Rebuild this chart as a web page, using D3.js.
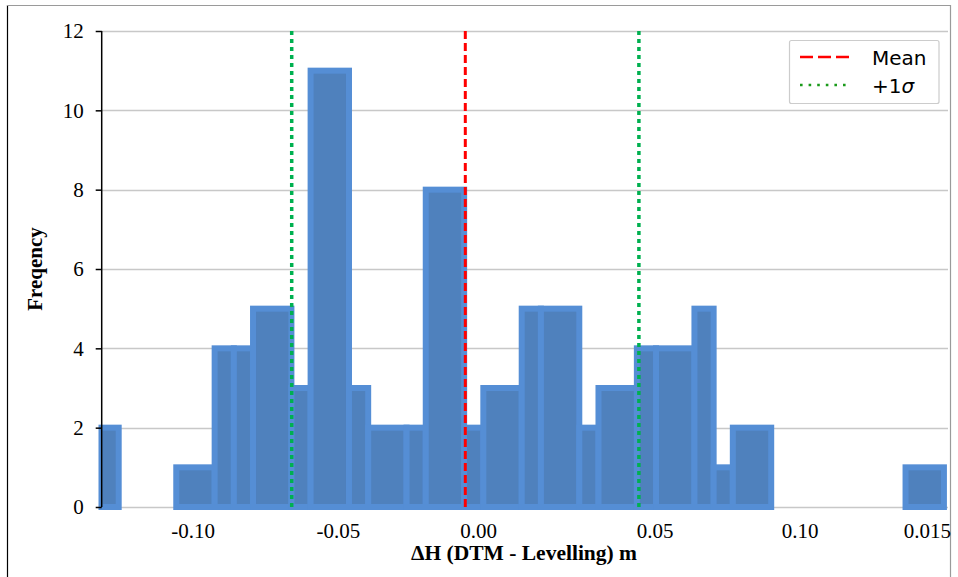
<!DOCTYPE html>
<html>
<head>
<meta charset="utf-8">
<script src="https://cdn.jsdelivr.net/npm/d3@7"></script>
<style>
  html, body { margin: 0; padding: 0; background: #fff; }
  svg { display: block; }
</style>
</head>
<body>
<svg id="chart" width="958" height="577"></svg>
<script>
// ---- data ----
const binStart = [-0.1320, -0.1056, -0.0924, -0.0858, -0.0792, -0.0660, -0.0594, -0.0462, -0.0396, -0.0264, -0.0198, -0.0066, 0.0000, 0.0132, 0.0198, 0.0330, 0.0396, 0.0528, 0.0594, 0.0726, 0.0792, 0.0858, 0.1452];
const binEnd   = [-0.1254, -0.0924, -0.0858, -0.0792, -0.0660, -0.0594, -0.0462, -0.0396, -0.0264, -0.0198, -0.0066, 0.0000, 0.0132, 0.0198, 0.0330, 0.0396, 0.0528, 0.0594, 0.0726, 0.0792, 0.0858, 0.0990, 0.1584];
const frequency = [2, 1, 4, 4, 5, 3, 11, 3, 2, 2, 8, 2, 3, 5, 5, 2, 3, 4, 4, 5, 1, 2, 1];
const meanValue = -0.0062;
const sigmaValue = 0.0597;
const xTickPos = [-0.100, -0.050, -0.0018, 0.0589, 0.1088, 0.1525];
const xTickLabels = ["-0.10", "-0.05", "0.00", "0.05", "0.10", "0.015"];
const yTicks = [0, 2, 4, 6, 8, 10, 12];
const xTitle = "ΔH (DTM - Levelling) m";
const yTitle = "Freqency";
const legendItems = ["Mean", "+1σ"];

// ---- layout ----
const svg = d3.select("#chart");
const plot = { left: 99.5, right: 948, top: 31, bottom: 507 };
const x = d3.scaleLinear().domain([-0.132, 0.1598]).range([plot.left, plot.right]);
const y = d3.scaleLinear().domain([0, 12]).range([plot.bottom, plot.top]);

// outer frame
svg.append("line").attr("x1", 7.5).attr("x2", 7.5).attr("y1", 5).attr("y2", 577).attr("stroke", "#000").attr("stroke-width", 1.2);
svg.append("line").attr("x1", 7).attr("x2", 951).attr("y1", 5.5).attr("y2", 5.5).attr("stroke", "#9a9a9a").attr("stroke-width", 1.2);
svg.append("line").attr("x1", 950.5).attr("x2", 950.5).attr("y1", 5).attr("y2", 577).attr("stroke", "#9a9a9a").attr("stroke-width", 1.2);

// gridlines
svg.append("g").selectAll("line").data(yTicks).join("line")
  .attr("x1", 101).attr("x2", plot.right)
  .attr("y1", d => Math.round(y(d)) + 0.5).attr("y2", d => Math.round(y(d)) + 0.5)
  .attr("stroke", "#c8c8c8").attr("stroke-width", 1.3);

// bars
const bins = frequency.map((f, i) => ({ x0: binStart[i], x1: binEnd[i], f }));
svg.append("defs").append("clipPath").attr("id", "clipL")
  .append("rect").attr("x", 98.5).attr("y", 0).attr("width", 900).attr("height", 577);
svg.append("g").attr("clip-path", "url(#clipL)")
  .selectAll("rect").data(bins).join("rect")
  .attr("x", d => x(d.x0))
  .attr("width", d => x(d.x1) - x(d.x0))
  .attr("y", d => y(d.f))
  .attr("height", d => y(0) - y(d.f))
  .attr("fill", "#4f81bd")
  .attr("stroke", "#558ed5")
  .attr("stroke-width", 6);

// mean & sigma lines
svg.append("line")
  .attr("x1", x(meanValue)).attr("x2", x(meanValue))
  .attr("y1", y(12)).attr("y2", y(0))
  .attr("stroke", "#ff0000").attr("stroke-width", 3)
  .attr("stroke-dasharray", "8,4");
[meanValue - sigmaValue, meanValue + sigmaValue].forEach(v => {
  svg.append("line")
    .attr("x1", x(v)).attr("x2", x(v))
    .attr("y1", y(12)).attr("y2", y(0))
    .attr("stroke", "#00b050").attr("stroke-width", 3.5)
    .attr("stroke-dasharray", "4,4");
});

// y axis
const yAxis = d3.axisLeft(y).tickValues(yTicks).tickSize(6).tickPadding(12).tickFormat(d3.format("d"));
const gy = svg.append("g").attr("transform", "translate(101.7,0)").call(yAxis);
gy.select(".domain").attr("stroke", "#000").attr("stroke-width", 1.5).attr("d", `M0,${plot.top}V${plot.bottom}`);
gy.selectAll(".tick line").attr("stroke", "#000").attr("stroke-width", 1.5);
gy.selectAll(".tick text").attr("font-family", "'Liberation Serif', 'Times New Roman', serif")
  .attr("font-size", 21).attr("fill", "#000");

// x axis (labels only)
const xAxis = d3.axisBottom(x).tickValues(xTickPos).tickSize(0).tickPadding(0)
  .tickFormat((d, i) => xTickLabels[i]);
const gx = svg.append("g").attr("transform", `translate(0,${plot.bottom})`).call(xAxis);
gx.select(".domain").remove();
gx.selectAll(".tick text").attr("font-family", "'Liberation Serif', 'Times New Roman', serif")
  .attr("font-size", 21).attr("fill", "#000").attr("dy", null).attr("y", 31);

// axis titles
svg.append("text").attr("x", 524).attr("y", 560).attr("text-anchor", "middle")
  .attr("font-family", "'Liberation Serif', serif").attr("font-weight", "bold")
  .attr("font-size", 21.5).text(xTitle);
svg.append("text").attr("transform", "translate(42,269) rotate(-90)").attr("text-anchor", "middle")
  .attr("font-family", "'Liberation Serif', serif").attr("font-weight", "bold")
  .attr("font-size", 21).text(yTitle);

// legend
const lg = svg.append("g");
lg.append("rect").attr("x", 789.5).attr("y", 40.5).attr("width", 149.5).attr("height", 63)
  .attr("rx", 2).attr("fill", "#fff").attr("stroke", "#cccccc").attr("stroke-width", 1.2);
lg.append("line").attr("x1", 800).attr("x2", 851).attr("y1", 57).attr("y2", 57)
  .attr("stroke", "#ff0000").attr("stroke-width", 2.6).attr("stroke-dasharray", "13,5");
lg.append("line").attr("x1", 800).attr("x2", 851).attr("y1", 85).attr("y2", 85)
  .attr("stroke", "#1a9a1a").attr("stroke-width", 2.6).attr("stroke-dasharray", "2.6,6");
lg.append("text").attr("x", 872).attr("y", 64.5).attr("font-family", "'DejaVu Sans', sans-serif")
  .attr("font-size", 20).attr("fill", "#000").text(legendItems[0]);
const t2 = lg.append("text").attr("x", 872).attr("y", 92.5).attr("font-family", "'DejaVu Sans', sans-serif")
  .attr("font-size", 20).attr("fill", "#000");
t2.append("tspan").text(legendItems[1].slice(0, 2));
t2.append("tspan").attr("font-style", "italic").text(legendItems[1].slice(2));
</script>
</body>
</html>
